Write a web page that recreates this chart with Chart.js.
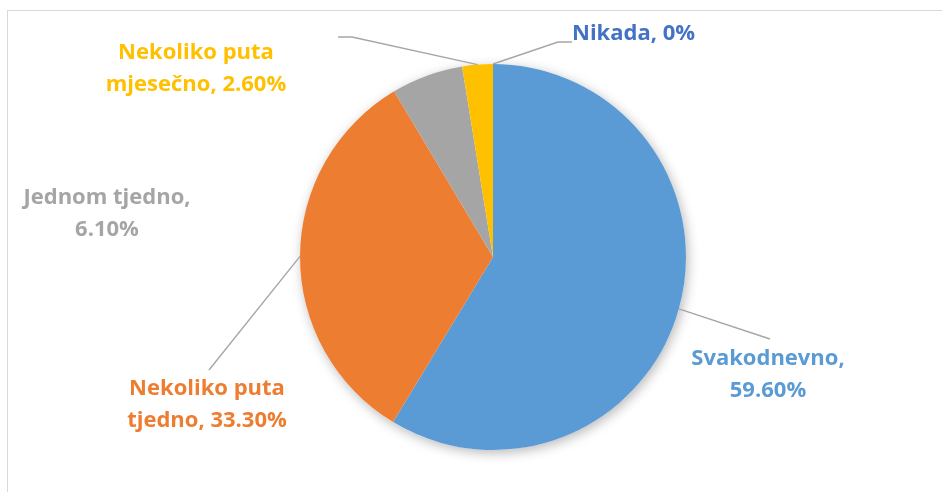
<!DOCTYPE html>
<html>
<head>
<meta charset="utf-8">
<style>
  html, body { margin: 0; padding: 0; background: #fff; }
  #wrap { position: relative; width: 942px; height: 492px; overflow: hidden; }
  #frame { position: absolute; left: 7px; top: 10px; width: 2000px; height: 2000px; border: 1px solid #d9d9d9; }
  canvas { position: absolute; left: 0; top: 0; }
</style>
</head>
<body>
<div id="wrap">
  <div id="frame"></div>
  <canvas id="pie" width="942" height="492"></canvas>
</div>
<script src="https://cdn.jsdelivr.net/npm/chart.js@4/dist/chart.umd.min.js"></script>
<script>
// ---- data ----
const categories = ["Svakodnevno", "Nekoliko puta tjedno", "Jednom tjedno", "Nekoliko puta mjesečno", "Nikada"];
const values = [59.6, 33.3, 6.1, 2.6, 0];
const valueLabels = ["59.60%", "33.30%", "6.10%", "2.60%", "0%"];
const sliceColors = ["#5B9BD5", "#ED7D31", "#A5A5A5", "#FFC000", "#4472C4"];

// label text lines (category + value, split like in the original)
const labelLines = [
    ["Svakodnevno,", valueLabels[0]],
    ["Nekoliko puta", "tjedno, " + valueLabels[1]],
    ["Jednom tjedno,", valueLabels[2]],
    ["Nekoliko puta", "mjesečno, " + valueLabels[3]],
    ["Nikada, " + valueLabels[4]]
];

// where each label sits and how its leader line bends (canvas px)
const labelLayout = [
    { x: 768, y: 365, align: "center", leader: [[770, 339]] },
    { x: 207, y: 395, align: "center", leader: [[209, 370]] },
    { x: 107, y: 204, align: "center", leader: null },
    { x: 196, y: 59, align: "center", leader: [[352, 37], [338, 37]] },
    { x: 572, y: 40, align: "left", leader: [[558, 42], [572, 42]] }
];

const LINE_GAP = 32;

const pieShadow = {
    id: "pieShadow",
    beforeDatasetsDraw(chart) {
        const arc = chart.getDatasetMeta(0).data[0];
        if (!arc) return;
        const ctx = chart.ctx;
        ctx.save();
        ctx.shadowColor = "rgba(0,0,0,0.28)";
        ctx.shadowBlur = 12;
        ctx.shadowOffsetX = 2;
        ctx.shadowOffsetY = 3;
        ctx.fillStyle = "#ffffff";
        ctx.beginPath();
        ctx.arc(arc.x, arc.y, arc.outerRadius, 0, Math.PI * 2);
        ctx.fill();
        ctx.restore();
    }
};

const outsideLabels = {
    id: "outsideLabels",
    afterDatasetsDraw(chart) {
        const ctx = chart.ctx;
        const meta = chart.getDatasetMeta(0);
        ctx.save();
        meta.data.forEach((arc, i) => {
            const lay = labelLayout[i];
            // leader line from the slice edge
            if (lay.leader) {
                const mid = (arc.startAngle + arc.endAngle) / 2;
                const sx = arc.x + Math.cos(mid) * arc.outerRadius;
                const sy = arc.y + Math.sin(mid) * arc.outerRadius;
                ctx.strokeStyle = "#A6A6A6";
                ctx.lineWidth = 1.4;
                ctx.beginPath();
                ctx.moveTo(sx, sy);
                lay.leader.forEach(p => ctx.lineTo(p[0], p[1]));
                ctx.stroke();
            }
            // text
            ctx.fillStyle = sliceColors[i];
            ctx.font = "bold 22px 'Open Sans'";
            ctx.textAlign = lay.align;
            ctx.textBaseline = "alphabetic";
            labelLines[i].forEach((line, j) => {
                ctx.fillText(line, lay.x, lay.y + j * LINE_GAP);
            });
        });
        ctx.restore();
    }
};

new Chart(document.getElementById("pie"), {
    type: "pie",
    data: {
        labels: categories,
        datasets: [{
            data: values,
            backgroundColor: sliceColors,
            borderWidth: 0
        }]
    },
    options: {
        responsive: false,
        animation: false,
        layout: { padding: { left: 300, right: 256, top: 64, bottom: 42 } },
        plugins: {
            legend: { display: false },
            tooltip: { enabled: false }
        }
    },
    plugins: [pieShadow, outsideLabels]
});
</script>
</body>
</html>
